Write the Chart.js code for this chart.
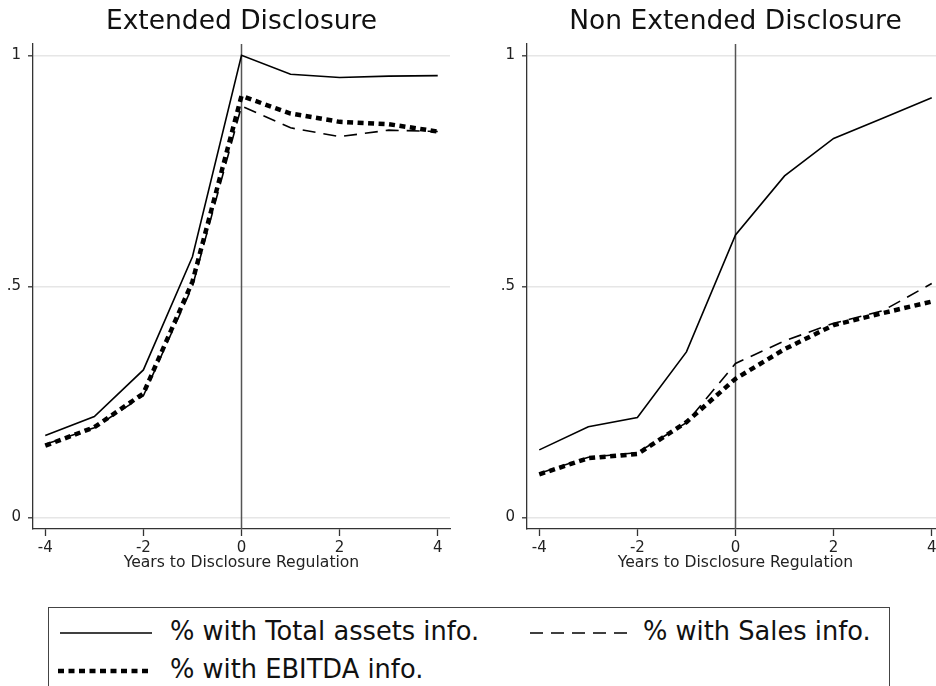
<!DOCTYPE html>
<html>
<head>
<meta charset="utf-8">
<script src="https://cdn.jsdelivr.net/npm/chart.js@4.4.1/dist/chart.umd.min.js"></script>
<style>
  html, body { margin: 0; padding: 0; background: #fff; overflow: hidden; }
  body { width: 936px; height: 686px; position: relative; font-family: "DejaVu Sans", sans-serif; }
  canvas { position: absolute; top: 0; }
  #left { left: 0; }
  #right { left: 494px; }
  .legend { position: absolute; left: 48px; top: 607px; width: 842px; height: 100px;
            border: 1.3px solid #444; box-sizing: border-box; }
  .legend svg { position: absolute; }
  .legend span { position: absolute; font-size: 25.7px; color: #111; white-space: nowrap; line-height: 1; }
</style>
</head>
<body>
<canvas id="left" width="460" height="600"></canvas>
<canvas id="right" width="460" height="600"></canvas>

<div class="legend">
  <svg style="left:10px;top:14px" width="94" height="22"><line x1="1" y1="11" x2="93" y2="11" stroke="#000" stroke-width="1.6"/></svg>
  <span style="left:121px;top:11px">% with Total assets info.</span>
  <svg style="left:480px;top:14px" width="100" height="22"><line x1="1" y1="11" x2="99" y2="11" stroke="#000" stroke-width="1.6" stroke-dasharray="13 8"/></svg>
  <span style="left:594px;top:11px">% with Sales info.</span>
  <svg style="left:8px;top:52px" width="96" height="22"><line x1="1" y1="11" x2="95" y2="11" stroke="#000" stroke-width="4.5" stroke-dasharray="6 4.5"/></svg>
  <span style="left:121px;top:49px">% with EBITDA info.</span>
</div>

<script>
// Share of firms reporting each item, by years relative to the disclosure regulation
const years = [-4, -3, -2, -1, 0, 1, 2, 3, 4];

const extTotal  = [0.177, 0.218, 0.319, 0.564, 1.000, 0.959, 0.952, 0.955, 0.956];
const extSales  = [0.158, 0.194, 0.263, 0.500, 0.890, 0.843, 0.824, 0.838, 0.835];
const extEbitda = [0.155, 0.195, 0.268, 0.510, 0.912, 0.874, 0.856, 0.851, 0.835];

const nonTotal  = [0.146, 0.196, 0.216, 0.358, 0.611, 0.739, 0.820, 0.864, 0.908];
const nonSales  = [0.095, 0.130, 0.140, 0.205, 0.333, 0.382, 0.420, 0.447, 0.506];
const nonEbitda = [0.093, 0.128, 0.137, 0.206, 0.300, 0.364, 0.416, 0.442, 0.467];

const seriesLabels = ['% with Total assets info.', '% with Sales info.', '% with EBITDA info.'];
const panelTitles = ['Extended Disclosure', 'Non Extended Disclosure'];

const xTickValues = [-4, -2, 0, 2, 4];
const yTickValues = [0, 0.5, 1];
const yTickLabels = ['0', '.5', '1'];
const xAxisTitle = 'Years to Disclosure Regulation';

Chart.defaults.font.family = '"DejaVu Sans", sans-serif';
Chart.defaults.color = '#222';

const pts = (vals) => years.map((x, i) => ({ x: x, y: vals[i] }));

// Panel title centred over the plot region, plus the reference line at year 0
const panelDecor = {
  id: 'panelDecor',
  beforeDatasetsDraw(chart) {
    const { ctx, chartArea, scales } = chart;
    const x0 = scales.x.getPixelForValue(0);
    ctx.save();
    ctx.strokeStyle = '#555';
    ctx.lineWidth = 1.5;
    ctx.beginPath();
    ctx.moveTo(x0, chartArea.top);
    ctx.lineTo(x0, chartArea.bottom);
    ctx.stroke();
    ctx.restore();
  },
  afterDraw(chart, args, opts) {
    const { ctx, chartArea } = chart;
    ctx.save();
    ctx.font = '26.5px "DejaVu Sans", sans-serif';
    ctx.fillStyle = '#111';
    ctx.textAlign = 'center';
    ctx.textBaseline = 'middle';
    ctx.fillText(opts.text, (chartArea.left + chartArea.right) / 2, 22);
    ctx.restore();
  }
};

function makePanel(id, title, total, sales, ebitda) {
  return new Chart(document.getElementById(id), {
    type: 'line',
    data: {
      datasets: [
        { label: seriesLabels[0], data: pts(total), borderColor: '#000', borderWidth: 1.6, order: 2 },
        { label: seriesLabels[1], data: pts(sales), borderColor: '#000', borderWidth: 1.6, borderDash: [13, 8], order: 1 },
        { label: seriesLabels[2], data: pts(ebitda), borderColor: '#000', borderWidth: 4.5, borderDash: [6, 4.5], order: 0 }
      ]
    },
    options: {
      responsive: false,
      animation: false,
      events: [],
      layout: { autoPadding: false, padding: { top: 44, right: 10, bottom: 28, left: 0 } },
      elements: {
        point: { radius: 0 },
        line: { tension: 0, borderCapStyle: 'butt', borderJoinStyle: 'miter', fill: false }
      },
      plugins: {
        legend: { display: false },
        tooltip: { enabled: false },
        title: { display: false },
        panelDecor: { text: title }
      },
      scales: {
        x: {
          type: 'linear',
          min: -4.25,
          max: 4.25,
          afterBuildTicks: (s) => { s.ticks = xTickValues.map(v => ({ value: v })); },
          afterFit: (s) => { s.height = 43; },
          ticks: { font: { size: 15 }, color: '#222', padding: 3, maxRotation: 0,
                   callback: (v) => String(v) },
          grid: { drawOnChartArea: false, drawTicks: true, tickLength: 7, tickColor: '#333', tickWidth: 1.3 },
          border: { display: true, color: '#333', width: 1.3 },
          title: { display: true, text: xAxisTitle, font: { size: 15.6 }, color: '#222', padding: 0 }
        },
        y: {
          type: 'linear',
          min: -0.0253,
          max: 1.0245,
          afterBuildTicks: (s) => { s.ticks = yTickValues.map(v => ({ value: v })); },
          afterFit: (s) => { s.width = 33; },
          ticks: { font: { size: 15 }, color: '#222', padding: 7,
                   callback: (v) => yTickLabels[yTickValues.indexOf(v)] },
          grid: { drawOnChartArea: true, color: '#e6e6e6', lineWidth: 1.6,
                  drawTicks: true, tickLength: 5, tickColor: '#333', tickWidth: 1.3 },
          border: { display: true, color: '#333', width: 1.3 }
        }
      }
    },
    plugins: [panelDecor]
  });
}

makePanel('left', panelTitles[0], extTotal, extSales, extEbitda);
makePanel('right', panelTitles[1], nonTotal, nonSales, nonEbitda);
</script>
</body>
</html>
